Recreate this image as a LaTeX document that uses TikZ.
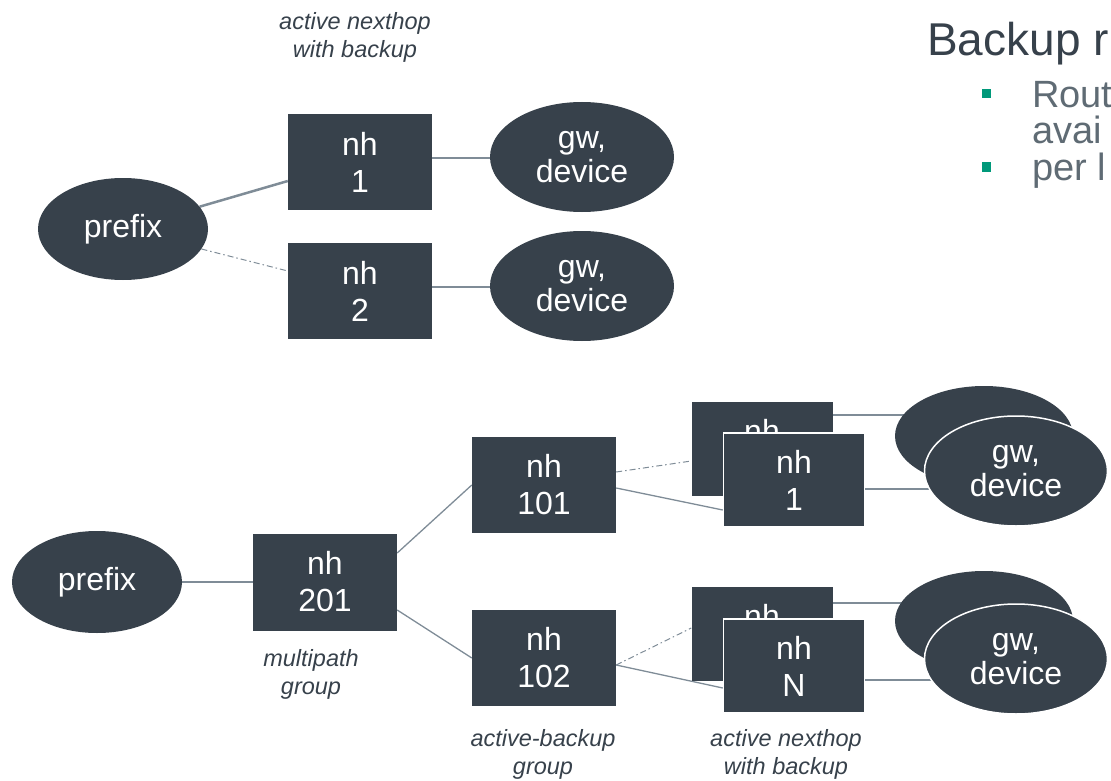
\documentclass[tikz,border=0pt]{standalone}
\usepackage{fontspec}
\setmainfont{Liberation Sans}
\usetikzlibrary{shapes.geometric,backgrounds}
\definecolor{boxfill}{HTML}{37414B}
\definecolor{linegrey}{HTML}{7F8C97}
\definecolor{bultext}{HTML}{5F6B74}
\definecolor{bulgreen}{HTML}{00997A}
\begin{document}
\begin{tikzpicture}[x=1pt,y=-1pt,
  boxfont/.style={font=\fontsize{32}{37}\selectfont},
  ellfont/.style={font=\fontsize{32}{34}\selectfont},
  nhbox/.style={rectangle, fill=boxfill, text=white, minimum width=144pt, minimum height=96pt, inner sep=0pt, align=center, boxfont},
  smallbox/.style={nhbox, minimum width=141pt, minimum height=94pt},
  frontbox/.style={smallbox, draw=white, line width=1.5pt},
  gwell/.style={ellipse, fill=boxfill, text=white, minimum width=184pt, minimum height=110pt, inner sep=0pt, align=center, ellfont},
  backell/.style={gwell, minimum width=178pt, minimum height=100pt},
  frontell/.style={gwell, draw=white, line width=1.5pt, minimum width=183pt, minimum height=110pt},
  prefixell/.style={gwell, minimum width=170pt, minimum height=102pt},
  conn/.style={draw=linegrey, line width=1.3pt},
  mainconn/.style={draw=linegrey, line width=2.5pt},
  altconn/.style={draw=linegrey, line width=1pt, dash pattern=on 6pt off 3pt on 1.5pt off 3pt},
  lbl/.style={font=\fontsize{23.5}{28}\selectfont\itshape, text=boxfill, align=center},
  bulsq/.style={rectangle, fill=bulgreen, minimum size=9pt, inner sep=0pt},
  bultxt/.style={anchor=base west, font=\fontsize{38}{38}\selectfont, text=bultext, inner sep=0pt}
]
\useasboundingbox (0,0) rectangle (1111,781);

% ---- top diagram ----
\node[prefixell] (p1) at (123,229) {prefix};
\node[nhbox] (nh1) at (360,162) {nh\\1};
\node[nhbox] (nh2) at (360,291) {nh\\2};
\node[gwell] (gw1) at (582,157) {gw,\\device};
\node[gwell] (gw2) at (582,286) {gw,\\device};
\node[lbl] (ltop) at (355,37) {active nexthop\\with backup};

% ---- bottom diagram ----
\node[prefixell] (p2) at (97,582) {prefix};
\node[nhbox, minimum height=97pt] (nh201) at (325,582) {nh\\201};
\node[nhbox] (nh101) at (544,485) {nh\\101};
\node[nhbox] (nh102) at (544,658) {nh\\102};

\node[smallbox] (bnhA) at (762,449) {nh\\\phantom{1}};
\node[frontbox] (fnh1) at (794,480) {nh\\1};
\node[backell] (bgw1) at (984,436) {};
\node[frontell] (fgw1) at (1016,471) {gw,\\device};

\node[smallbox] (bnhB) at (762,634) {nh\\\phantom{N}};
\node[frontbox] (fnhN) at (794,666) {nh\\N};
\node[backell] (bgw2) at (984,621) {};
\node[frontell] (fgwN) at (1016,659) {gw,\\device};

\node[lbl] (lmp) at (311,674) {multipath\\group};
\node[lbl] (lab) at (543,754) {active-backup\\group};
\node[lbl] (lan) at (786,754) {active nexthop\\with backup};

% ---- connectors ----
\begin{pgfonlayer}{background}
\draw[mainconn] (p1) -- ([yshift=-19pt]nh1.west);
\draw[altconn] (p1) -- ([yshift=20pt]nh2.west);
\draw[conn] ([yshift=4pt]nh1.east) -- ([yshift=4pt]nh1.east -| gw1);
\draw[conn] ([yshift=4pt]nh2.east) -- ([yshift=4pt]nh2.east -| gw2);

\draw[mainconn] (p2) -- (nh201);
\draw[conn] ([yshift=29pt]nh201.east) -- (nh101.west);
\draw[conn] ([yshift=-28pt]nh201.east) -- (nh102.west);
\draw[altconn] ([yshift=13pt]nh101.east) -- ([yshift=-12pt]bnhA.west);
\draw[conn] ([yshift=-3pt]nh101.east) -- ([yshift=-30pt]fnh1.west);
\draw[altconn] ([yshift=-7pt]nh102.east) -- ([yshift=6pt]bnhB.west);
\draw[conn] ([yshift=-7pt]nh102.east) -- ([yshift=-22pt]fnhN.west);
\draw[conn] ([yshift=34pt]bnhA.east) -- ([yshift=34pt]bnhA.east -| bgw1);
\draw[conn] ([yshift=-9pt]fnh1.east) -- ([yshift=-9pt]fnh1.east -| fgw1);
\draw[conn] ([yshift=31pt]bnhB.east) -- ([yshift=31pt]bnhB.east -| bgw2);
\draw[conn] ([yshift=-14pt]fnhN.east) -- ([yshift=-14pt]fnhN.east -| fgwN);
\end{pgfonlayer}

% ---- cut-off text at the right ----
\begin{scope}
\clip (0,0) rectangle (1111,781);
\node[anchor=base west, font=\fontsize{46}{46}\selectfont, text=boxfill, inner sep=0pt] (title) at (927,56) {Backup r};
\node[bulsq] (b1) at (986,94) {};
\node[bultxt] (t1) at (1032,108) {Rout};
\node[bultxt] (t2) at (1032,143) {avai};
\node[bulsq] (b2) at (986,167) {};
\node[bultxt] (t3) at (1032,180) {per l};
\end{scope}
\end{tikzpicture}
\end{document}
